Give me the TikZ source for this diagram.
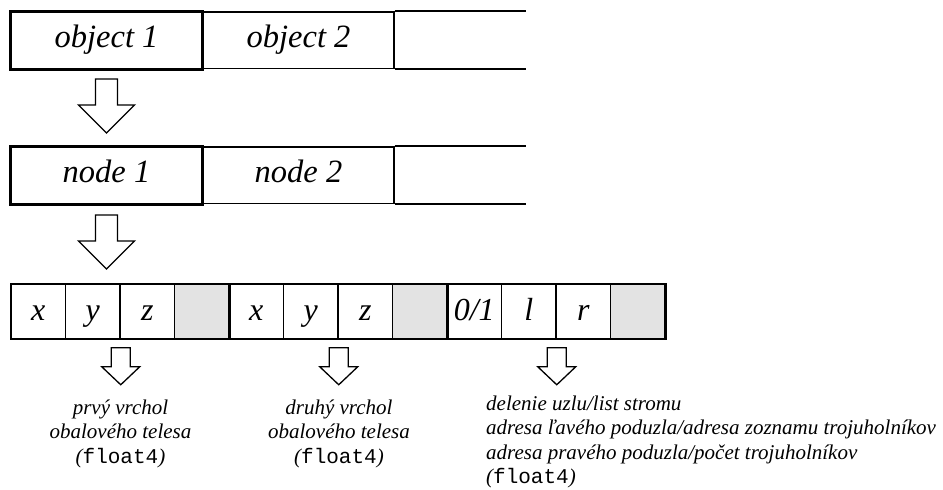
\documentclass[tikz,border=0pt]{standalone}
\usepackage{fontspec}
\setmainfont{Liberation Serif}
\setmonofont{Liberation Mono}
\usetikzlibrary{positioning}

\tikzstyle{box} = [draw, line width=1.5pt, minimum width=190.5pt, minimum height=56.5pt, inner sep=0pt, text height=22pt, text depth=8pt, font=\fontsize{32.5}{36}\selectfont\itshape]
\tikzstyle{cell} = [draw, line width=1.5pt, minimum width=54.5pt, minimum height=55pt, inner sep=0pt, text height=23pt, text depth=6pt, font=\fontsize{32}{36}\selectfont\itshape]
\tikzstyle{pad} = [cell, fill=black!11]
\tikzstyle{heavy} = [line width=3pt]
\tikzstyle{blockarrow} = [draw, line width=1.3pt, fill=white, line join=miter]
\tikzstyle{note} = [inner sep=0pt, font=\fontsize{21}{24.5}\selectfont\itshape]

\newcommand{\ftype}{{\upshape\ttfamily float4}}

\begin{document}
\begin{tikzpicture}[x=1pt, y=-1pt, node distance=0pt]
\useasboundingbox (0,0) rectangle (943,490);

% objects
\node[box] (o1) at (106.5,40) {object 1};
\node[box, right=of o1] (o2) {object 2};
\coordinate (oend) at ([xshift=131pt]o2.north east);
\draw[line width=1.8pt] (o2.north east) -- (oend) (o2.south east) -- (o2.south east -| oend);
\draw[heavy] (o1.north west) rectangle (o1.south east);

% nodes
\node[box] (n1) at (106.5,175) {node 1};
\node[box, right=of n1] (n2) {node 2};
\coordinate (nend) at ([xshift=131pt]n2.north east);
\draw[line width=1.8pt] (n2.north east) -- (nend) (n2.south east) -- (n2.south east -| nend);
\draw[heavy] (n1.north west) rectangle (n1.south east);

% node data
\foreach \i/\lab/\sty in {1/x/cell, 2/y/cell, 3/z/cell, 4/{}/pad,
                          5/x/cell, 6/y/cell, 7/z/cell, 8/{}/pad,
                          9/{0/1}/cell, 10/l/cell, 11/r/cell, 12/{}/pad}
    \node[\sty] (c\i) at ({11+54.5*\i-27.25},311.5) {\lab};
\foreach \i in {4,8,12}
    \draw[heavy] (c\i.north east) -- (c\i.south east);

% big arrows
\coordinate (a1) at ([yshift=-10pt]o1.south);
\coordinate (a2) at ([yshift=-11pt]n1.south);
\foreach \a in {a1,a2}
    \draw[blockarrow] (\a) ++(-11,0) -- ++(22,0) -- ++(0,26) -- ++(17,0)
        -- ++(-28,28) -- ++(-28,-28) -- ++(17,0) -- cycle;

% small arrows
\coordinate (s1) at ([yshift=-8pt]c2.south east);
\coordinate (s2) at ([yshift=-8pt]c6.south east);
\coordinate (s3) at ([yshift=-8pt]c10.south east);
\foreach \a in {s1,s2,s3}
    \draw[blockarrow] (\a) ++(-9.5,0) -- ++(19,0) -- ++(0,19) -- ++(9.5,0)
        -- ++(-19,18) -- ++(-19,-18) -- ++(9.5,0) -- cycle;

% descriptions
\node[note, align=center, anchor=north] (t1) at (120.5,399.5)
    {prvý vrchol\\obalového telesa\\(\ftype)};
\node[note, align=center, anchor=north] (t2) at (339,399.5)
    {druhý vrchol\\obalového telesa\\(\ftype)};
\node[note, align=left, anchor=north west] (t3) at (486,395.5)
    {delenie uzlu/list stromu\\adresa ľavého poduzla/adresa zoznamu trojuholníkov\\adresa pravého poduzla/počet trojuholníkov\\(\ftype)};
\end{tikzpicture}
\end{document}
